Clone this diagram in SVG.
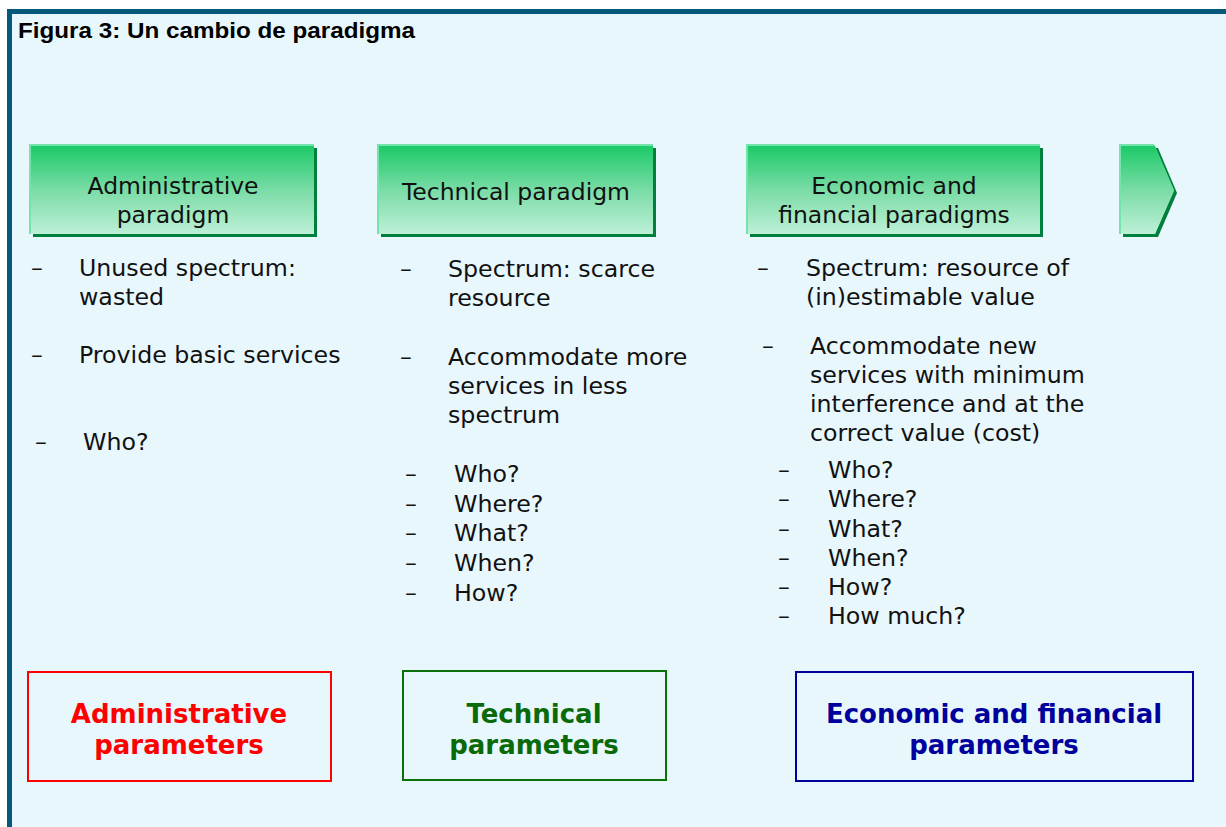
<svg xmlns="http://www.w3.org/2000/svg" width="1226" height="827" viewBox="0 0 1226 827">
<defs>
<linearGradient id="g" x1="0" y1="0" x2="0" y2="1">
<stop offset="0" stop-color="#1CCA68"/>
<stop offset="0.5" stop-color="#7ADCA6"/>
<stop offset="1" stop-color="#BDF0D7"/>
</linearGradient>
<style>
.t{font-family:"DejaVu Sans",Verdana,sans-serif;font-size:23.7px;fill:#111}
.h{font-family:"DejaVu Sans",Verdana,sans-serif;font-size:23.5px;fill:#111;text-anchor:middle}
.b{font-family:"DejaVu Sans",Verdana,sans-serif;font-size:26px;font-weight:bold;text-anchor:middle}
.lt{fill:#74E4AC}
.dk{fill:#00803C}
.gf{fill:url(#g)}
</style>
</defs>
<rect x="0" y="0" width="1226" height="827" fill="#FFFFFF"/>
<rect x="7" y="9" width="1219" height="818" fill="#E8F7FC"/>
<rect x="7" y="9" width="1219" height="5" fill="#03587C"/>
<rect x="7" y="9" width="5" height="818" fill="#03587C"/>
<text x="18" y="38" font-family="'Liberation Sans',Arial,sans-serif" font-weight="bold" font-size="22" fill="#000" textLength="397" lengthAdjust="spacingAndGlyphs">Figura 3: Un cambio de paradigma</text>

<g id="hdr-admin">
<rect class="dk" x="33" y="148" width="284" height="89"/>
<rect class="lt" x="29" y="144" width="285" height="90"/>
<rect class="gf" x="31" y="146" width="283" height="88"/>
<text class="h" x="173" y="194">Administrative</text>
<text class="h" x="173" y="223">paradigm</text>
</g>
<g id="hdr-tech">
<rect class="dk" x="381" y="148" width="275" height="89"/>
<rect class="lt" x="377" y="144" width="276" height="90"/>
<rect class="gf" x="379" y="146" width="274" height="88"/>
<text class="h" x="516" y="200">Technical paradigm</text>
</g>
<g id="hdr-econ">
<rect class="dk" x="750" y="148" width="293" height="89"/>
<rect class="lt" x="746" y="144" width="294" height="90"/>
<rect class="gf" x="748" y="146" width="292" height="88"/>
<text class="h" x="894" y="194">Economic and</text>
<text class="h" x="894" y="223">financial paradigms</text>
</g>
<g id="hdr-arrow">
<polygon class="dk" points="1123,148 1158,148 1177,193 1158,237 1123,237"/>
<polygon class="lt" points="1119,144 1154,144 1174,190 1155,234 1119,234"/>
<polygon class="gf" points="1121,146 1155,146 1174,191 1155,234 1121,234"/>
</g>

<g id="list-admin" class="t">
<text x="31" y="276">–</text>
<text x="79" y="276">Unused spectrum:</text>
<text x="79" y="305">wasted</text>
<text x="31" y="363">–</text>
<text x="79" y="363">Provide basic services</text>
<text x="35" y="450">–</text>
<text x="83" y="450">Who?</text>
</g>

<g id="list-tech" class="t">
<text x="400" y="277">–</text>
<text x="448" y="277">Spectrum: scarce</text>
<text x="448" y="306">resource</text>
<text x="400" y="365">–</text>
<text x="448" y="365">Accommodate more</text>
<text x="448" y="394">services in less</text>
<text x="448" y="423">spectrum</text>
<text x="405" y="482">–</text><text x="454" y="482">Who?</text>
<text x="405" y="512">–</text><text x="454" y="512">Where?</text>
<text x="405" y="541">–</text><text x="454" y="541">What?</text>
<text x="405" y="571">–</text><text x="454" y="571">When?</text>
<text x="405" y="601">–</text><text x="454" y="601">How?</text>
</g>

<g id="list-econ" class="t">
<text x="757" y="276">–</text>
<text x="806" y="276">Spectrum: resource of</text>
<text x="806" y="305">(in)estimable value</text>
<text x="762" y="354">–</text>
<text x="810" y="354">Accommodate new</text>
<text x="810" y="383">services with minimum</text>
<text x="810" y="412">interference and at the</text>
<text x="810" y="441">correct value (cost)</text>
<text x="778" y="478">–</text><text x="828" y="478">Who?</text>
<text x="778" y="507">–</text><text x="828" y="507">Where?</text>
<text x="778" y="537">–</text><text x="828" y="537">What?</text>
<text x="778" y="566">–</text><text x="828" y="566">When?</text>
<text x="778" y="595">–</text><text x="828" y="595">How?</text>
<text x="778" y="624">–</text><text x="828" y="624">How much?</text>
</g>

<g id="param-admin">
<rect x="28" y="672" width="303" height="109" fill="none" stroke="#FF0000" stroke-width="2"/>
<text class="b" x="179" y="723" fill="#FF0000">Administrative</text>
<text class="b" x="179" y="754" fill="#FF0000">parameters</text>
</g>
<g id="param-tech">
<rect x="403" y="671" width="263" height="109" fill="none" stroke="#0A700A" stroke-width="2"/>
<text class="b" x="534" y="723" fill="#0A6A0A">Technical</text>
<text class="b" x="534" y="754" fill="#0A6A0A">parameters</text>
</g>
<g id="param-econ">
<rect x="796" y="672" width="397" height="109" fill="none" stroke="#00009C" stroke-width="2"/>
<text class="b" x="994" y="723" fill="#00009C">Economic and financial</text>
<text class="b" x="994" y="754" fill="#00009C">parameters</text>
</g>
<g id="connectors"/>
</svg>
